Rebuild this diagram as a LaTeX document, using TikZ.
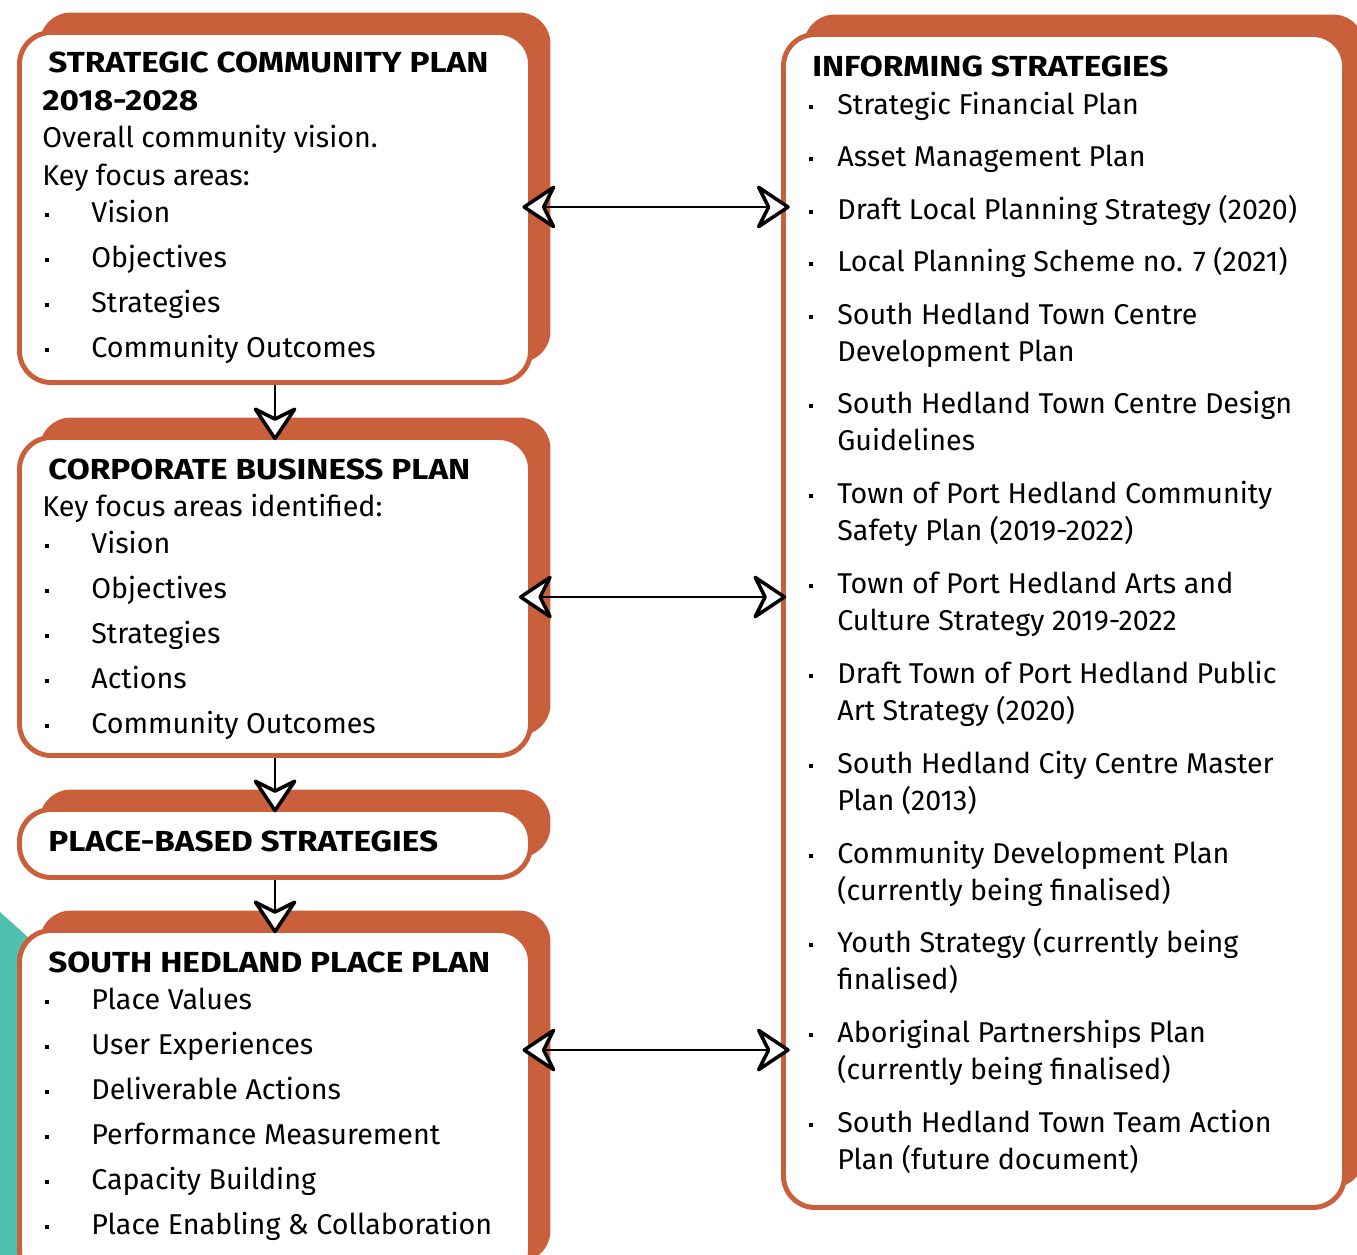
\documentclass[tikz,border=0pt]{standalone}
\usepackage{fontspec}
\setmainfont{Fira Sans}
\newfontfamily\headfont[FakeStretch=1.15]{Fira Sans}
\usetikzlibrary{arrows.meta,fit,shadows}
\definecolor{brick}{RGB}{201,95,59}
\definecolor{lagoon}{RGB}{78,192,173}
\tikzset{
  opentip/.tip={Stealth[length=21pt,width=28pt,inset=7pt,fill=white,line width=2pt,round]},
  plan/.style={draw=brick, line width=2.8pt, fill=white, rounded corners=18pt, inner sep=0pt,
    general shadow={shadow xshift=.4cm, shadow yshift=.4cm, fill=brick}},
  head/.style={anchor=base west, inner sep=0pt, font=\fontsize{16.5pt}{20pt}\selectfont\headfont\bfseries},
  item/.style={anchor=base west, inner sep=0pt, font=\fontsize{16.3pt}{20pt}\selectfont},
  bul/.style={fill=black, minimum size=2.6pt, inner sep=0pt},
  twoway/.style={opentip-opentip, line width=1.1pt},
  oneway/.style={-opentip, line width=1.1pt}
}
\begin{document}
\begin{tikzpicture}[x=0.02cm,y=-0.02cm]
  \useasboundingbox (0,0) rectangle (1357,1255);
  \fill[lagoon] (0,912) -- (70,975) -- (70,1255) -- (0,1255) -- cycle;
  % boxes
  \node[plan, fit={(19.5,32.5) (530.5,382.5)}] (scp) {};
  \node[plan, fit={(19.5,437.5) (530.5,755.5)}] (cbp) {};
  \node[plan, fit={(19.5,809.5) (530.5,877.5)}] (pbs) {};
  \node[plan, fit={(19.5,930.5) (530.5,1282)}] (shp) {};
  \node[plan, fit={(783.5,34.5) (1344.5,1207.5)}] (inf) {};
  % strategic community plan
  \node[head] (scp-t1) at (48,72) {STRATEGIC COMMUNITY PLAN};
  \node[head] (scp-t2) at (42,110) {2018-2028};
  \node[item] (scp-t3) at (42,147) {Overall community vision.};
  \node[item] (scp-t4) at (42,185) {Key focus areas:};
  \foreach \txt [count=\i] in {Vision, Objectives, Strategies, Community Outcomes} {
    \pgfmathsetmacro{\y}{222+45*(\i-1)}
    \node[bul] (scp-b\i) at (47,\y-7) {};
    \node[item] (scp-i\i) at (91,\y) {\txt};
  }
  % corporate business plan
  \node[head] (cbp-t1) at (48,479) {CORPORATE BUSINESS PLAN};
  \node[item] (cbp-t2) at (42,516) {Key focus areas identified:};
  \foreach \txt [count=\i] in {Vision, Objectives, Strategies, Actions, Community Outcomes} {
    \pgfmathsetmacro{\y}{553+45*(\i-1)}
    \node[bul] (cbp-b\i) at (47,\y-7) {};
    \node[item] (cbp-i\i) at (91,\y) {\txt};
  }
  % place-based strategies
  \node[head] (pbs-t1) at (48,851) {PLACE-BASED STRATEGIES};
  % south hedland place plan
  \node[head] (shp-t1) at (48,972) {SOUTH HEDLAND PLACE PLAN};
  \foreach \txt [count=\i] in {Place Values, User Experiences, Deliverable Actions,
      Performance Measurement, Capacity Building, Place Enabling \& Collaboration} {
    \pgfmathsetmacro{\y}{1009+45*(\i-1)}
    \node[bul] (shp-b\i) at (47,\y-7) {};
    \node[item] (shp-i\i) at (91,\y) {\txt};
  }
  % informing strategies
  \node[head] (inf-t1) at (812,76) {INFORMING STRATEGIES};
  \foreach \y/\ta/\tb [count=\i] in {
      114/Strategic Financial Plan/,
      166/Asset Management Plan/,
      219/Draft Local Planning Strategy (2020)/,
      271/Local Planning Scheme no. 7 (2021)/,
      324/South Hedland Town Centre/Development Plan,
      413/South Hedland Town Centre Design/Guidelines,
      503/Town of Port Hedland Community/Safety Plan (2019-2022),
      593/Town of Port Hedland Arts and/Culture Strategy 2019-2022,
      683/Draft Town of Port Hedland Public/Art Strategy (2020),
      773/South Hedland City Centre Master/Plan (2013),
      863/Community Development Plan/(currently being finalised),
      952/Youth Strategy (currently being/finalised),
      1042/Aboriginal Partnerships Plan/(currently being finalised),
      1132/South Hedland Town Team Action/Plan (future document)} {
    \node[bul] (inf-b\i) at (811,\y-7) {};
    \node[item] (inf-a\i) at (837,\y) {\ta};
    \node[item] (inf-c\i) at (837,\y+37) {\tb};
  }
  % connectors
  \draw[oneway, shorten >=-3pt] (scp.south) -- (cbp.north);
  \draw[oneway, shorten >=-3pt] (cbp.south) -- (pbs.north);
  \draw[oneway, shorten >=-3pt] (pbs.south) -- (shp.north);
  \draw[twoway, shorten <=-6pt, shorten >=-5pt] (scp.east |- 0,207) -- (inf.west |- 0,207);
  \draw[twoway, shorten <=-8pt, shorten >=-3pt] (cbp.east |- 0,597) -- (inf.west |- 0,597);
  \draw[twoway, shorten <=-6pt, shorten >=-5pt] (shp.east |- 0,1050) -- (inf.west |- 0,1050);
\end{tikzpicture}
\end{document}
